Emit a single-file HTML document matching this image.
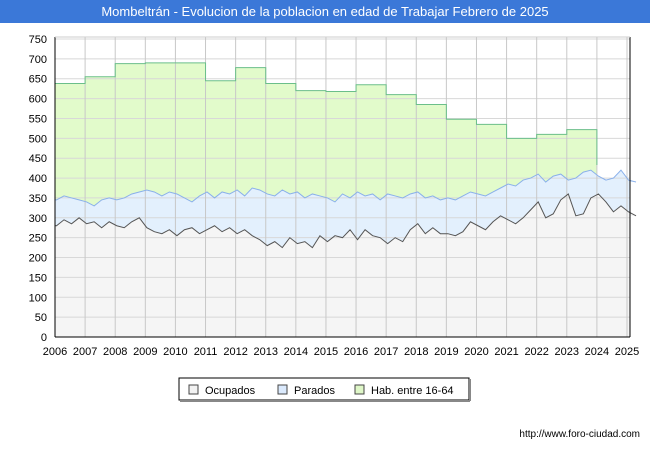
<!DOCTYPE html>
<html><head><meta charset="utf-8"><style>
body{margin:0;width:650px;height:450px;background:#fff;font-family:"Liberation Sans","DejaVu Sans",sans-serif;overflow:hidden}
</style></head><body>
<svg id="chart" width="650" height="450" xmlns="http://www.w3.org/2000/svg" font-family="Liberation Sans, DejaVu Sans, sans-serif">
<rect x="0" y="0" width="650" height="23" fill="#3b78d8"/>
<text x="325" y="16" fill="#fff" font-size="13" text-anchor="middle">Mombeltrán - Evolucion de la poblacion en edad de Trabajar Febrero de 2025</text>
<rect x="55" y="37" width="575" height="300" fill="#fff"/>
<g id="series"></g>
<g id="grid"></g>
<g id="lines"></g>
<g id="axes"></g>
<rect x="179" y="378" width="290" height="22" fill="#fff" stroke="#000" stroke-width="1"/>
<line x1="180" y1="401" x2="470" y2="401" stroke="#888" stroke-width="2"/><line x1="470" y1="379" x2="470" y2="401" stroke="#888" stroke-width="2"/>
<rect x="189" y="385" width="9" height="9" fill="#f2f2f2" stroke="#444"/>
<text x="205" y="394" font-size="11">Ocupados</text>
<rect x="278" y="385" width="9" height="9" fill="#dbeafd" stroke="#444"/>
<text x="294" y="394" font-size="11">Parados</text>
<rect x="355" y="385" width="9" height="9" fill="#dff7c8" stroke="#444"/>
<text x="371" y="394" font-size="11">Hab. entre 16-64</text>
<text x="640" y="437" font-size="10" text-anchor="end">http://www.foro-ciudad.com</text>
</svg>
<script>
const years=[2006,2007,2008,2009,2010,2011,2012,2013,2014,2015,2016,2017,2018,2019,2020,2021,2022,2023,2024,2025];
const yTicks=[0,50,100,150,200,250,300,350,400,450,500,550,600,650,700,750];
const habYears=[2006,2007,2008,2009,2010,2011,2012,2013,2014,2015,2016,2017,2018,2019,2020,2021,2022,2023];
const habValues=[638,655,688,690,690,645,678,638,620,618,635,610,585,548,535,500,510,522];
const habFinal=433;
const ocupados=[280,295,285,300,285,290,275,290,280,275,290,300,275,265,260,270,255,270,275,260,270,280,265,275,260,270,255,245,230,240,225,250,235,240,225,255,240,255,250,270,245,270,255,250,235,250,240,270,285,260,275,260,260,255,265,290,280,270,290,305,295,285,300,320,340,300,310,345,360,305,310,350,360,340,315,330,315,305];
const totalActivos=[345,355,350,345,340,330,345,350,345,350,360,365,370,365,355,365,360,350,340,355,365,350,365,360,370,355,375,370,360,355,370,360,365,350,360,355,350,340,360,350,365,355,360,345,360,355,350,360,365,350,355,345,350,345,355,365,360,355,365,375,385,380,395,400,410,390,405,410,395,400,415,420,405,395,400,420,395,390];
const X0=55,X1=627,Y0=337,YS=298/750;
const x=t=>X0+(t-2006)*(X1-X0)/19;
const y=v=>Y0-v*YS;
const qt=i=>2006+i*0.25+0.05;
const NS="http://www.w3.org/2000/svg";
function mk(tag,attrs,parent){const e=document.createElementNS(NS,tag);for(const k in attrs)e.setAttribute(k,attrs[k]);parent.appendChild(e);return e;}
const grid=document.getElementById('grid'),series=document.getElementById('series'),lines=document.getElementById('lines'),axes=document.getElementById('axes');
yTicks.forEach(v=>{
 const l=mk('line',{x1:X0,x2:630,y1:y(v),y2:y(v),stroke:'#d8d8d8'},grid);
 
 
 const t=mk('text',{x:47,y:y(v)+4,'font-size':11,'text-anchor':'end'},axes);t.textContent=v;
 
 
});
let hp=`M${x(2006)},${y(0)}`;
let hlp=`M${x(2006)},${y(habValues[0])}`;
habValues.forEach((v,i)=>{hp+=` L${x(habYears[i])},${y(v)} L${x(habYears[i]+1)},${y(v)}`;hlp+=` L${x(habYears[i])},${y(v)} L${x(habYears[i]+1)},${y(v)}`;});
hp+=` L${x(2024)},${y(habFinal)} L${x(2024)},${y(0)} Z`;
hlp+=` L${x(2024)},${y(habFinal)}`;
const ha=mk('path',{d:hp,fill:'#e2fbcb',stroke:'none'},series);


const hl=mk('path',{d:hlp,fill:'none',stroke:'#6bbf8a','stroke-width':1},lines);


function pts(arr){return arr.map((v,i)=>`${x(qt(i))},${y(v)}`).join(' L');}
const n=totalActivos.length;
const pa=mk('path',{d:`M${x(2006)},${y(0)} L${x(2006)},${y(totalActivos[0])} L${pts(totalActivos)} L630,${y(totalActivos[n-1])} L630,${y(0)} Z`,fill:'#e3f0fd'},series);


const pl=mk('path',{d:`M${x(2006)},${y(totalActivos[0])} L${pts(totalActivos)}`,fill:'none',stroke:'#8ab0ea'},lines);


const oa=mk('path',{d:`M${x(2006)},${y(0)} L${x(2006)},${y(ocupados[0])} L${pts(ocupados)} L630,${y(ocupados[n-1])} L630,${y(0)} Z`,fill:'#f5f5f5'},series);


const ol=mk('path',{d:`M${x(2006)},${y(ocupados[0])} L${pts(ocupados)}`,fill:'none',stroke:'#555'},lines);


years.forEach(yr=>{
 const l=mk('line',{x1:x(yr),x2:x(yr),y1:37,y2:Y0,stroke:'#c8c8c8'},grid);
 
 
 const t=mk('text',{x:x(yr),y:355,'font-size':11,'text-anchor':'middle'},axes);t.textContent=yr;
 
 
});
mk('line',{x1:X0,x2:X0,y1:37,y2:Y0,stroke:'#000'},axes);
mk('line',{x1:630,x2:630,y1:37,y2:Y0,stroke:'#000'},axes);
mk('line',{x1:X0,x2:630,y1:Y0,y2:Y0,stroke:'#000'},axes);
mk('line',{x1:X0,x2:630,y1:37,y2:37,stroke:'#ccc'},axes);
</script>
</body></html>
